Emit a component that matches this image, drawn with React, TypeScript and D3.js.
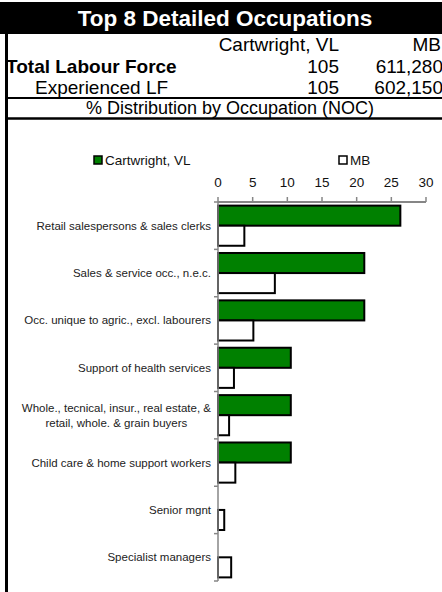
import React from "react";
import * as d3 from "d3";

// header table
const titleText = "Top 8 Detailed Occupations";
const seriesNames = ["Cartwright, VL", "MB"];
const rowLabels = ["Total Labour Force", "Experienced LF"];
const cartwrightLF = ["105", "105"];
const mbLF = ["611,280", "602,150"];
const subTitle = "% Distribution by Occupation (NOC)";

// chart data (% of experienced labour force)
const occupations = [
  "Retail salespersons & sales clerks",
  "Sales & service occ., n.e.c.",
  "Occ. unique to agric., excl. labourers",
  "Support of health services",
  "Whole., tecnical, insur., real estate, &\nretail, whole. & grain buyers",
  "Child care & home support workers",
  "Senior mgnt",
  "Specialist managers",
];
const cartwrightPct = [26.3, 21.1, 21.1, 10.5, 10.5, 10.5, 0, 0];
const mbPct = [3.8, 8.2, 5.1, 2.3, 1.6, 2.5, 0.9, 1.9];
const xTicks = [0, 5, 10, 15, 20, 25, 30];

const W = 442;
const H = 592;
const FONT = "'Liberation Sans', Arial, sans-serif";
const GREEN = "#008000";
const AXIS = "#868686";

export default function App() {
  const svgRef = React.useRef<SVGSVGElement>(null);

  React.useEffect(() => {
    const svg = d3.select(svgRef.current);
    svg.selectAll("*").remove();
    svg.style("font-family", FONT);

    // --- header block ---
    svg.append("rect").attr("x", 0).attr("y", 2).attr("width", W).attr("height", 32).attr("fill", "#000");
    svg.append("text")
      .attr("x", 225).attr("y", 26)
      .attr("text-anchor", "middle")
      .attr("fill", "#fff")
      .style("font-size", "22.5px").style("font-weight", "bold")
      .text(titleText);

    svg.append("text").attr("x", 339).attr("y", 51).attr("text-anchor", "end")
      .style("font-size", "19px").text(seriesNames[0]);
    svg.append("text").attr("x", 441).attr("y", 51).attr("text-anchor", "end")
      .style("font-size", "19px").text(seriesNames[1]);

    const rowY = [73, 94];
    rowLabels.forEach((lbl, i) => {
      svg.append("text")
        .attr("x", i === 0 ? 6 : 35).attr("y", rowY[i])
        .style("font-size", "19px").style("font-weight", i === 0 ? "bold" : "normal")
        .text(lbl);
      svg.append("text").attr("x", 339).attr("y", rowY[i]).attr("text-anchor", "end")
        .style("font-size", "19px").text(cartwrightLF[i]);
      svg.append("text").attr("x", 443).attr("y", rowY[i]).attr("text-anchor", "end")
        .style("font-size", "19px").text(mbLF[i]);
    });

    svg.append("line").attr("x1", 6).attr("x2", W).attr("y1", 98).attr("y2", 98)
      .attr("stroke", "#000").attr("stroke-width", 2);
    svg.append("text").attr("x", 230).attr("y", 114).attr("text-anchor", "middle")
      .style("font-size", "18px").text(subTitle);
    svg.append("line").attr("x1", 6).attr("x2", W).attr("y1", 118.5).attr("y2", 118.5)
      .attr("stroke", "#000").attr("stroke-width", 2.5);
    svg.append("line").attr("x1", 6.5).attr("x2", 6.5).attr("y1", 34).attr("y2", H)
      .attr("stroke", "#000").attr("stroke-width", 3);

    // --- chart ---
    const x = d3.scaleLinear().domain([0, 30]).range([218, 426]);
    const y = d3.scaleBand<number>().domain(d3.range(occupations.length)).range([202, 581]);
    const sub = d3.scaleBand<number>().domain([0, 1]).range([0, y.bandwidth()]).paddingOuter(0.18);
    const series = [cartwrightPct, mbPct];
    const fills = [GREEN, "#fff"];

    // legend
    const legendX = [94, 339];
    seriesNames.forEach((name, i) => {
      svg.append("rect").attr("x", legendX[i]).attr("y", 156).attr("width", 8).attr("height", 8)
        .attr("fill", fills[i]).attr("stroke", "#000").attr("stroke-width", 1.5);
      svg.append("text").attr("x", legendX[i] + 11).attr("y", 165)
        .style("font-size", "13.5px").attr("fill", "#111").text(name);
    });

    // x axis (top)
    const ax = svg.append("g");
    ax.append("line").attr("x1", x(0)).attr("x2", x(30)).attr("y1", 202).attr("y2", 202)
      .attr("stroke", AXIS).attr("stroke-width", 2);
    ax.selectAll("line.tick").data(xTicks).enter().append("line")
      .attr("class", "tick")
      .attr("x1", (d) => x(d)).attr("x2", (d) => x(d)).attr("y1", 202).attr("y2", 197)
      .attr("stroke", AXIS).attr("stroke-width", 1.5);
    ax.selectAll("text").data(xTicks).enter().append("text")
      .attr("x", (d) => x(d)).attr("y", 187).attr("text-anchor", "middle")
      .style("font-size", "13.5px").attr("fill", "#111")
      .text((d) => d);

    // bars
    series.forEach((vals, s) => {
      svg.append("g").selectAll("rect")
        .data(vals.map((v, i) => ({ v, i })).filter((d) => d.v > 0))
        .enter().append("rect")
        .attr("x", x(0))
        .attr("y", (d) => (y(d.i) as number) + (sub(s) as number))
        .attr("width", (d) => x(d.v) - x(0))
        .attr("height", sub.bandwidth())
        .attr("fill", fills[s])
        .attr("stroke", "#000")
        .attr("stroke-width", 2);
    });

    // y axis
    const ay = svg.append("g");
    ay.append("line").attr("x1", x(0)).attr("x2", x(0)).attr("y1", 202).attr("y2", 581)
      .attr("stroke", AXIS).attr("stroke-width", 1.5);
    ay.selectAll("line.tick").data(d3.range(occupations.length + 1)).enter().append("line")
      .attr("class", "tick")
      .attr("x1", x(0) - 4).attr("x2", x(0))
      .attr("y1", (d) => 202 + d * y.step()).attr("y2", (d) => 202 + d * y.step())
      .attr("stroke", AXIS).attr("stroke-width", 1.5);

    // category labels
    occupations.forEach((label, i) => {
      const lines = label.split("\n");
      const cy = (y(i) as number) + y.bandwidth() / 2;
      const lh = 15;
      const t = ay.append("text")
        .style("font-size", "11.5px").attr("fill", "#222")
        .attr("text-anchor", "end");
      const spans = lines.map((ln, k) =>
        t.append("tspan")
          .attr("x", 211)
          .attr("y", cy + (k - (lines.length - 1) / 2) * lh)
          .attr("dy", "0.35em")
          .text(ln)
      );
      if (lines.length > 1) {
        const widths = spans.map((sp) => (sp.node() as SVGTSpanElement).getComputedTextLength());
        const maxW = Math.max(...widths);
        spans.forEach((sp) => sp.attr("x", 211 - maxW / 2));
        t.attr("text-anchor", "middle");
      }
    });
  }, []);

  return (
    <svg
      ref={svgRef}
      width={W}
      height={H}
      style={{ position: "absolute", left: 0, top: 0, background: "#fff" }}
    />
  );
}
